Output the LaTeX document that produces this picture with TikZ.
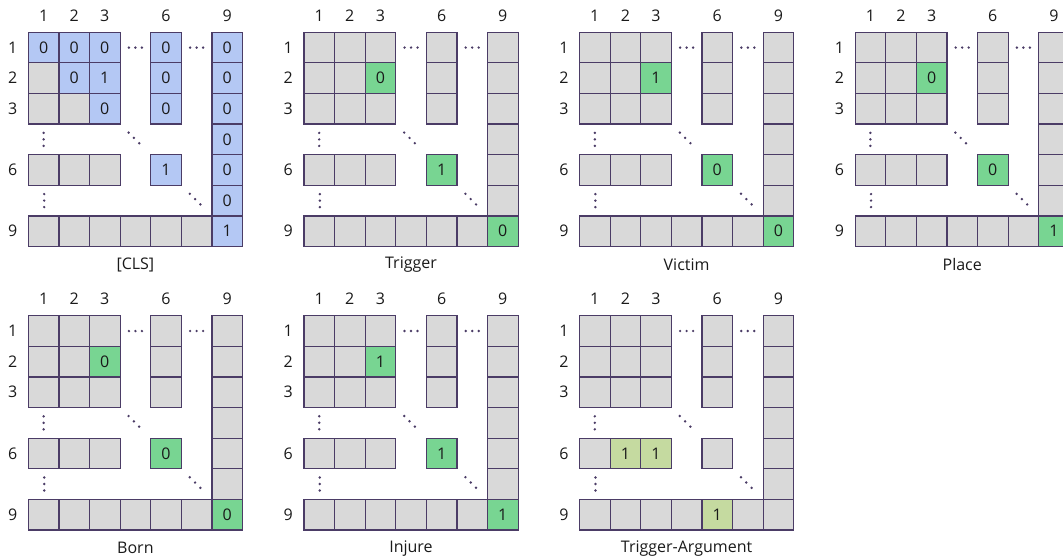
\documentclass[tikz,border=0pt]{standalone}
\usepackage{fontspec}
\setmainfont{Open Sans}
\definecolor{gridline}{HTML}{4B3C66}
\definecolor{cellgray}{HTML}{D9D9D9}
\definecolor{cellblue}{HTML}{B4C8F4}
\definecolor{cellgreen}{HTML}{78D592}
\definecolor{celllime}{HTML}{C5DAA0}
\definecolor{txt}{HTML}{1A1A1A}
\tikzset{
  gcell/.style={draw=gridline, line width=1.2pt, fill=cellgray, minimum size=30.6pt,
    inner sep=0pt, text=txt, font=\fontsize{16}{19}\selectfont},
  lbl/.style={inner sep=0pt, text=txt, font=\fontsize{16}{19}\selectfont},
  dotfill/.style={fill=gridline},
}
\newcommand\matgrid[5]{%
  \begin{scope}[shift={(#2,#3)}]
    \foreach \c/\r in {0/0,1/0,2/0,0/1,1/1,2/1,0/2,1/2,2/2,4/0,4/1,4/2,4/4,
      6/0,6/1,6/2,6/3,6/4,6/5,6/6,0/4,1/4,2/4,0/6,1/6,2/6,3/6,4/6,5/6}
      \node[gcell] (#1-\c-\r) at ({(\c+0.5)*30.6},{(\r+0.5)*30.6}) {};
    \foreach \c/\r/\s/\t in {#5}
      \node[gcell, fill=\s] (#1-\c-\r-v) at ({(\c+0.5)*30.6},{(\r+0.5)*30.6}) {\t};
    \foreach \c/\l in {0/1,1/2,2/3,4/6,6/9}
      \node[lbl] (#1-col\l) at ({(\c+0.5)*30.6},-16.5) {\l};
    \foreach \r/\l in {0/1,1/2,2/3,4/6,6/9}
      \node[lbl] (#1-row\l) at (-15.6,{(\r+0.5)*30.6}) {\l};
    \node[lbl] (#1-cap) at (107.1,232.6) {#4};
    \foreach \p in {-1,0,1} {
      \fill[dotfill] ({3.5*30.6+\p*6.5},{0.5*30.6}) circle (1.35);
      \fill[dotfill] ({5.5*30.6+\p*6.5},{0.5*30.6}) circle (1.35);
      \fill[dotfill] ({0.5*30.6},{3.5*30.6+\p*6.5}) circle (1.35);
      \fill[dotfill] ({0.5*30.6+0.6},{5.5*30.6+\p*6.5}) circle (1.35);
      \fill[dotfill] ({3.5*30.6-1.5+\p*5.3},{3.5*30.6-1.5+\p*5.3}) circle (1.35);
      \fill[dotfill] ({5.5*30.6-1.5+\p*5.3},{5.5*30.6-1.5+\p*5.3}) circle (1.35);
    }
  \end{scope}}
\begin{document}
\begin{tikzpicture}[x=1pt,y=-1pt]
  \useasboundingbox (0,0) rectangle (1063,559);
  \clip (0,0) rectangle (1063,559);
  \matgrid{cls}{28.3}{32.3}{[CLS]}{0/0/cellblue/0,1/0/cellblue/0,2/0/cellblue/0,4/0/cellblue/0,6/0/cellblue/0,
    1/1/cellblue/0,2/1/cellblue/1,4/1/cellblue/0,6/1/cellblue/0,
    2/2/cellblue/0,4/2/cellblue/0,6/2/cellblue/0,6/3/cellblue/0,
    4/4/cellblue/1,6/4/cellblue/0,6/5/cellblue/0,6/6/cellblue/1}
  \matgrid{trig}{303.9}{32.3}{Trigger}{2/1/cellgreen/0,4/4/cellgreen/1,6/6/cellgreen/0}
  \matgrid{vict}{579.5}{32.3}{Victim}{2/1/cellgreen/1,4/4/cellgreen/0,6/6/cellgreen/0}
  \matgrid{place}{855.1}{32.3}{Place}{2/1/cellgreen/0,4/4/cellgreen/0,6/6/cellgreen/1}
  \matgrid{born}{28.3}{315.7}{Born}{2/1/cellgreen/0,4/4/cellgreen/0,6/6/cellgreen/0}
  \matgrid{inj}{303.9}{315.7}{Injure}{2/1/cellgreen/1,4/4/cellgreen/1,6/6/cellgreen/1}
  \matgrid{targ}{579.5}{315.7}{Trigger-Argument}{1/4/celllime/1,2/4/celllime/1,4/6/celllime/1}
\end{tikzpicture}
\end{document}
